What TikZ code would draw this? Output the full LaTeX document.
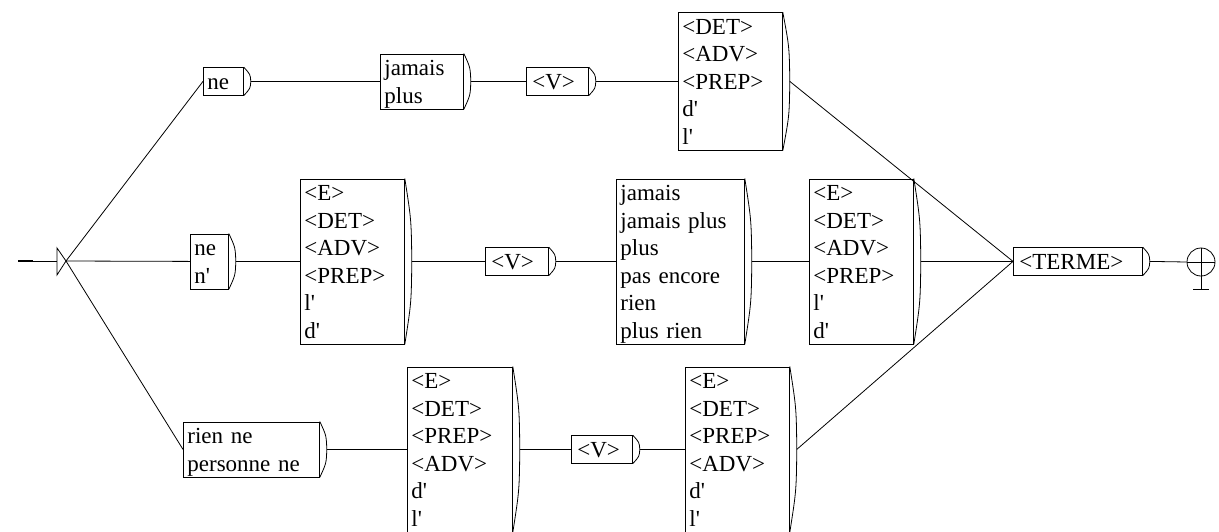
\documentclass[tikz,border=0pt]{standalone}
\usepackage{fontspec}
\setmainfont{Liberation Serif}
\usetikzlibrary{calc}
\newcommand\ql{\textquotesingle}
\newcommand\rs{\rule[-5.5pt]{0pt}{27pt}}
\tikzset{
  ubox/.style={draw, line width=0.8pt, anchor=north west, inner xsep=4pt, inner ysep=0pt,
    align=left, font=\fontsize{23}{27.5}\selectfont, minimum height=#1*27.5pt},
  conn/.style={line width=0.8pt},
}
\newcommand\ubrk[1]{%
  \coordinate (#1-t) at ($(#1.east)+(7,0)$);
  \draw[line width=0.8pt] (#1.north east) .. controls ($(#1.north east)!0.5!(#1-t)+(3,0)$) .. (#1-t)
     .. controls ($(#1.south east)!0.5!(#1-t)+(3,0)$) .. (#1.south east);}
\begin{document}
\begin{tikzpicture}[x=1pt,y=-1pt]
\fill[white] (0,0) rectangle (1219,531);
\useasboundingbox (0,0) rectangle (1219,531);

% initial state
\coordinate (i0) at (18,261);
\coordinate (i1) at (33,261);
\coordinate (tb) at (57,261);
\coordinate (init) at (66,261);
\draw[line width=2.6pt] (i0) -- (i1);
\draw[conn] (i1) -- (tb);
\draw[conn] (57,248) -- (init) -- (57,275) -- cycle;

% top row
\node[ubox=1, text width=32pt] (ne1) at (203,67.25) {\rs ne};
\node[ubox=2, text width=75pt] (jp) at (380,53.5) {\rs jamais\\\rs plus};
\node[ubox=1, text width=54pt] (v1) at (526,67.25) {\rs\hspace{2pt}<V>};
\node[ubox=5, text width=96pt] (d1) at (678,12.25) {\rs <DET>\\\rs <ADV>\\\rs <PREP>\\\rs d\ql\\\rs l\ql};

% middle row
\node[ubox=2, text width=30pt] (nn) at (190,233.5) {\rs ne\\\rs n\ql};
\node[ubox=6, text width=96pt] (d2) at (300,178.5) {\rs <E>\\\rs <DET>\\\rs <ADV>\\\rs <PREP>\\\rs l\ql\\\rs d\ql};
\node[ubox=1, text width=55pt] (v2) at (485,247.25) {\rs\hspace{2pt}<V>};
\node[ubox=6, text width=120pt] (jam) at (616,178.5) {\rs jamais\\\rs jamais plus\\\rs plus\\\rs pas encore\\\rs rien\\\rs plus rien};
\node[ubox=6, text width=96pt] (d3) at (809,178.5) {\rs <E>\\\rs <DET>\\\rs <ADV>\\\rs <PREP>\\\rs l\ql\\\rs d\ql};
\node[ubox=1, text width=121pt] (terme) at (1013,247.25) {\rs\hspace{2pt}<TERME>};

% bottom row
\node[ubox=2, text width=128pt] (rn) at (183,421.5) {\rs rien ne\\\rs personne ne};
\node[ubox=6, text width=97pt] (d4) at (407,366.5) {\rs <E>\\\rs <DET>\\\rs <PREP>\\\rs <ADV>\\\rs d\ql\\\rs l\ql};
\node[ubox=1, text width=53pt] (v3) at (571,435.25) {\rs\hspace{2pt}<V>};
\node[ubox=6, text width=96pt] (d5) at (685,366.5) {\rs <E>\\\rs <DET>\\\rs <PREP>\\\rs <ADV>\\\rs d\ql\\\rs l\ql};

\foreach \b in {ne1,jp,v1,d1,nn,d2,v2,jam,d3,terme,rn,d4,v3,d5} {\ubrk{\b}}

% final state
\node[circle, draw, line width=0.8pt, minimum size=28pt, inner sep=0pt] (fin) at (1201,262) {};
\coordinate (foot) at (1201,289);
\draw[conn] (fin.north) -- (fin.south) -- (foot);
\draw[conn] (fin.west) -- (fin.east);
\draw[conn] ($(foot)+(-8,0)$) -- ($(foot)+(8,0)$);

% connectors
\draw[conn] (init) -- (ne1.west);
\draw[conn] (init) -- (nn.west);
\draw[conn] (init) -- (rn.west);
\draw[conn] (ne1-t) -- (jp.west);
\draw[conn] (jp-t) -- (v1.west);
\draw[conn] (v1-t) -- (d1.west);
\draw[conn] (d1-t) -- (terme.west);
\draw[conn] (nn-t) -- (d2.west);
\draw[conn] (d2-t) -- (v2.west);
\draw[conn] (v2-t) -- (jam.west);
\draw[conn] (jam-t) -- (d3.west);
\draw[conn] (d3-t) -- (terme.west);
\draw[conn] (rn-t) -- (d4.west);
\draw[conn] (d4-t) -- (v3.west);
\draw[conn] (v3-t) -- (d5.west);
\draw[conn] (d5-t) -- (terme.west);
\draw[conn] (terme-t) -- (fin.west);
\end{tikzpicture}
\end{document}
